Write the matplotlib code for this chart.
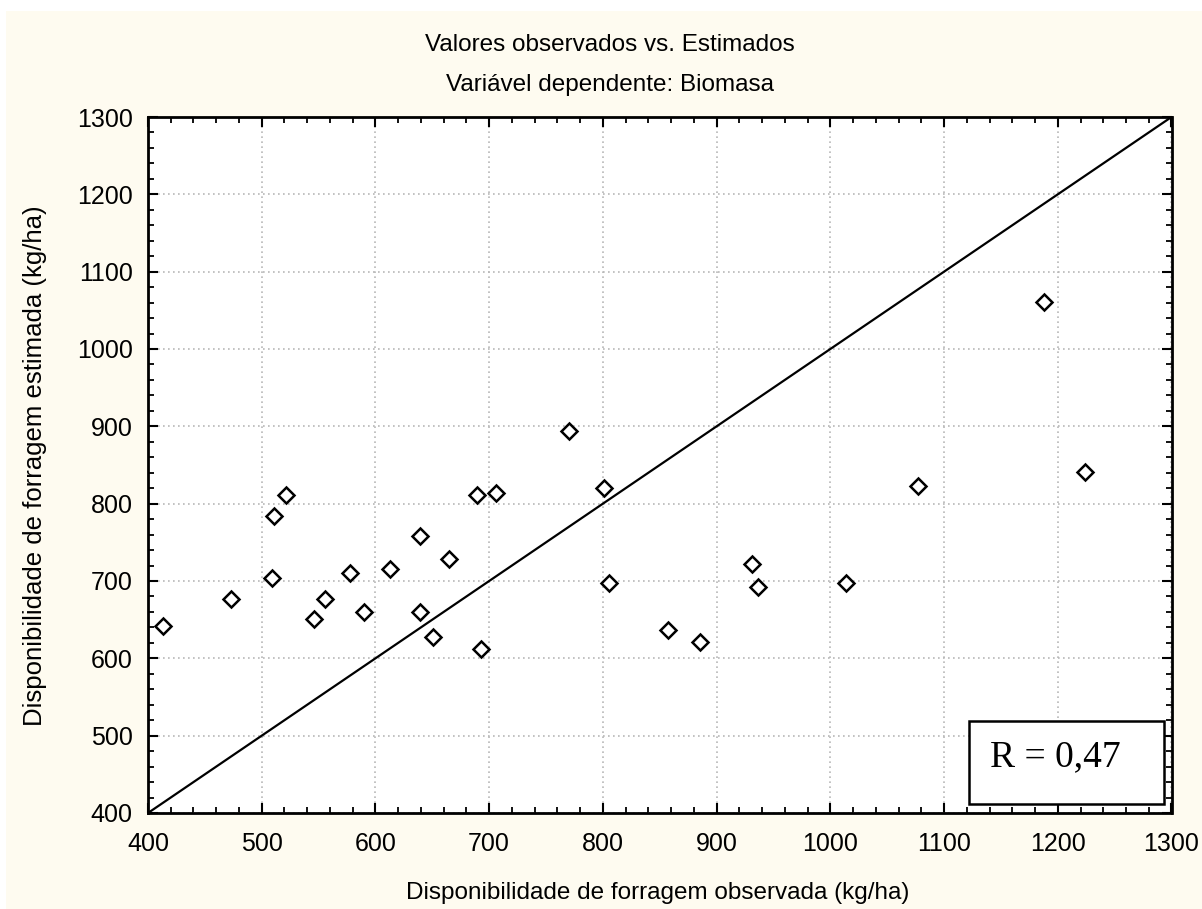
import numpy as np
import matplotlib.pyplot as plt
from matplotlib.patches import Rectangle
from matplotlib.ticker import MultipleLocator

# observed vs estimated forage availability (kg/ha)
observada = [413, 473, 509, 511, 521, 546, 556, 578, 590, 613, 639, 639, 651, 665,
             689, 693, 706, 770, 801, 805, 857, 885, 931, 936, 1014, 1077, 1224, 1188]
estimada = [642, 677, 704, 784, 811, 651, 677, 710, 660, 716, 758, 660, 627, 728,
            811, 612, 814, 894, 820, 698, 636, 621, 722, 692, 698, 823, 841, 1061]
ident = [400, 1300]
ticks = list(range(400, 1301, 100))

plt.rcParams['font.family'] = ['Liberation Sans', 'DejaVu Sans']

fig = plt.figure(figsize=(12.02, 9.09), dpi=100)
fig.patch.set_facecolor('white')
fig.patches.append(Rectangle((6/1202, 0), 1, 1 - 11/909, transform=fig.transFigure,
                             facecolor='#FEFBF0', edgecolor='none', zorder=-10))

ax = fig.add_axes([148/1202, 1 - 813/909, 1023.5/1202, 696/909])
ax.set_facecolor('white')

ax.plot(ident, ident, color='black', lw=1.6, zorder=2)
ax.plot(observada, estimada, 'D', ms=8, mfc='white', mec='black', mew=1.8, zorder=3)

ax.set_xlim(400, 1300)
ax.set_ylim(400, 1300)
ax.set_xticks(ticks)
ax.set_yticks(ticks)
ax.xaxis.set_minor_locator(MultipleLocator(20))
ax.yaxis.set_minor_locator(MultipleLocator(20))
ax.tick_params(which='both', direction='in', top=True, right=True, color='black')
ax.tick_params(which='major', length=7, width=1.5, labelsize=18, pad=11)
ax.tick_params(axis='x', which='major', pad=14)
ax.tick_params(which='minor', length=4, width=1.3)
for s in ax.spines.values():
    s.set_linewidth(2)
ax.grid(True, which='major', color='#B8B8B8', ls=(0, (1, 2)), lw=1.2)
ax.set_axisbelow(True)

fig.text(658/1202, 1 - 893/909, 'Disponibilidade de forragem observada (kg/ha)',
         ha='center', va='center', fontsize=17.5)
fig.text(35/1202, 1 - 466/909, 'Disponibilidade de forragem estimada (kg/ha)',
         ha='center', va='center', rotation=90, fontsize=18.5)
fig.text(610/1202, 1 - 45/909, 'Valores observados vs. Estimados', ha='center', va='center', fontsize=17.5)
fig.text(610/1202, 1 - 85/909, 'Variável dependente: Biomasa', ha='center', va='center', fontsize=17.5)

ax.add_patch(Rectangle((0.8025, 0.013), 0.19, 0.119, transform=ax.transAxes,
                       facecolor='white', edgecolor='black', lw=1.8, zorder=5))
ax.text(0.887, 0.08, 'R = 0,47', transform=ax.transAxes, ha='center', va='center',
        fontsize=27, family='Liberation Serif', zorder=6)

fig.savefig('out.png', dpi=100)
